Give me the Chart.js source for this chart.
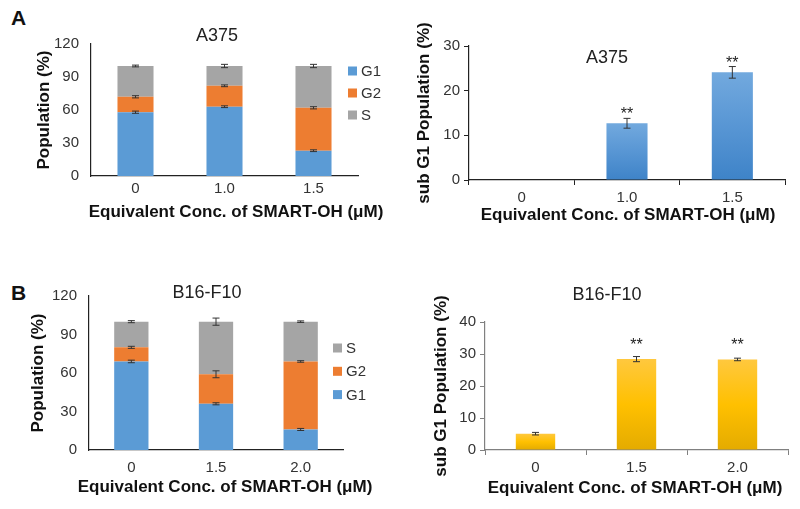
<!DOCTYPE html>
<html>
<head>
<meta charset="utf-8">
<script src="https://cdn.jsdelivr.net/npm/chart.js@4.4.1/dist/chart.umd.min.js"></script>
<style>
  body { margin: 0; background: #fff; }
  #wrap { position: relative; width: 800px; height: 509px; overflow: hidden; font-family: 'Liberation Sans', Arial, sans-serif; }
  canvas { position: absolute; }
  .tag { position: absolute; font-weight: bold; font-size: 21px; color: #111; }
</style>
</head>
<body>
<div id="wrap">
  <div class="tag" style="left:11px;top:6px;">A</div>
  <div class="tag" style="left:11px;top:281px;">B</div>
  <canvas id="aCycle" width="400" height="250" style="left:0;top:0;"></canvas>
  <canvas id="aSub" width="400" height="250" style="left:400px;top:0;"></canvas>
  <canvas id="bCycle" width="400" height="249" style="left:0;top:260px;"></canvas>
  <canvas id="bSub" width="400" height="249" style="left:400px;top:260px;"></canvas>
</div>
<script>
// --- data ---
var xTitle = 'Equivalent Conc. of SMART-OH (μM)';

var a375Doses = ['0', '1.0', '1.5'];
var a375G1 = [58, 63, 23];
var a375G2 = [14, 19, 39];
var a375S = [28, 18, 38];
var a375G1Err = [1, 0.8, 0.8];
var a375G2Err = [1, 0.8, 1];
var a375SErr = [0.8, 1.5, 1.5];

var a375SubG1 = [0, 12.7, 24.1];
var a375SubG1Err = [0, 1.1, 1.3];
var a375Sig = ['', '**', '**'];

var b16Doses = ['0', '1.5', '2.0'];
var b16G1 = [69, 36, 16];
var b16G2 = [11, 23, 53];
var b16S = [20, 41, 31];
var b16G1Err = [1, 0.8, 0.8];
var b16G2Err = [0.8, 2.7, 0.6];
var b16SErr = [0.8, 2.8, 0.6];

var b16SubG1 = [5.1, 28.4, 28.3];
var b16SubG1Err = [0.4, 0.8, 0.4];
var b16Sig = ['', '**', '**'];

Chart.defaults.font.family = "'Liberation Sans', Arial, sans-serif";
Chart.defaults.color = '#333';
Chart.defaults.animation = false;

var cBlue = '#5b9bd5', cOrange = '#ed7d31', cGray = '#a5a5a5';

// vertical gradient per bar (light top, dark bottom)
function barGradient(stops) {
    return function (ctx) {
        var chart = ctx.chart;
        if (!chart.chartArea || ctx.type !== 'data') return stops[stops.length - 1];
        var y = chart.scales.y;
        var g = chart.ctx.createLinearGradient(0, y.getPixelForValue(ctx.raw), 0, y.getPixelForValue(0));
        stops.forEach(function (c, k) { g.addColorStop(k / (stops.length - 1), c); });
        return g;
    };
}

// titles, legend, error bars and ** marks
var extras = {
    id: 'extras',
    afterDatasetsDraw: function (chart, args, opts) {
        var ctx = chart.ctx, y = chart.scales.y;
        var fam = Chart.defaults.font.family;
        ctx.save();
        (opts.errors || []).forEach(function (errs, di) {
            chart.getDatasetMeta(di).data.forEach(function (bar, i) {
                var e = errs[i];
                if (!e) return;
                var d = Math.abs(y.getPixelForValue(0) - y.getPixelForValue(e));
                ctx.strokeStyle = '#333';
                ctx.lineWidth = 1;
                ctx.beginPath();
                ctx.moveTo(bar.x, bar.y - d); ctx.lineTo(bar.x, bar.y + d);
                ctx.moveTo(bar.x - 3.5, bar.y - d); ctx.lineTo(bar.x + 3.5, bar.y - d);
                ctx.moveTo(bar.x - 3.5, bar.y + d); ctx.lineTo(bar.x + 3.5, bar.y + d);
                ctx.stroke();
            });
        });
        if (opts.stars) {
            ctx.fillStyle = '#222';
            ctx.font = '16px ' + fam;
            ctx.textAlign = 'center';
            ctx.textBaseline = 'alphabetic';
            chart.getDatasetMeta(0).data.forEach(function (bar, i) {
                var s = opts.stars.labels[i];
                if (s) ctx.fillText(s, bar.x, bar.y - opts.stars.lift);
            });
        }
        ctx.textAlign = 'center';
        ctx.textBaseline = 'middle';
        if (opts.title) {
            ctx.fillStyle = '#222';
            ctx.font = '18px ' + fam;
            ctx.fillText(opts.title.text, opts.title.x, opts.title.y);
        }
        if (opts.xTitle) {
            ctx.fillStyle = '#111';
            ctx.font = 'bold 17px ' + fam;
            ctx.fillText(xTitle, opts.xTitle.x, opts.xTitle.y);
        }
        if (opts.legend) {
            var lg = opts.legend;
            var sets = chart.data.datasets.slice();
            if (lg.reverse) sets.reverse();
            ctx.font = '15px ' + fam;
            ctx.textAlign = 'left';
            sets.forEach(function (ds, k) {
                var cy = lg.y + k * lg.gap;
                ctx.fillStyle = ds.backgroundColor;
                ctx.fillRect(lg.x, cy - 4.5, 9, 9);
                ctx.fillStyle = '#333';
                ctx.fillText(ds.label, lg.x + 13, cy + 1);
            });
        }
        ctx.restore();
    }
};

function cycleChart(id, labels, sets, o) {
    return new Chart(document.getElementById(id), {
        type: 'bar',
        data: {
            labels: labels,
            datasets: sets.map(function (s) {
                return {
                    label: s[0], data: s[1], backgroundColor: s[2],
                    barPercentage: 1, categoryPercentage: 0.405
                };
            })
        },
        plugins: [extras],
        options: {
            responsive: false,
            layout: { padding: o.padding },
            plugins: {
                legend: { display: false },
                tooltip: { enabled: false },
                extras: { title: o.title, xTitle: o.xTitle, legend: o.legend, errors: o.errors }
            },
            scales: {
                x: {
                    stacked: true,
                    grid: { display: false, drawTicks: false },
                    border: { display: true, color: '#222', width: 1.2 },
                    ticks: { padding: o.xTickPad, font: { size: 15 }, color: '#333' },
                    afterFit: function (s) { s.height = 50; }
                },
                y: {
                    stacked: true,
                    min: 0, max: 120,
                    grid: { display: false, drawTicks: false },
                    border: { display: true, color: '#222', width: 1.2 },
                    ticks: { stepSize: 30, padding: 12, font: { size: 15 }, color: '#333' },
                    title: { display: true, text: 'Population (%)', font: { size: 17, weight: 'bold' }, color: '#111', padding: { top: o.yTitlePad, bottom: 0 } },
                    afterFit: function (s) { s.width = o.yWidth; }
                }
            }
        }
    });
}

function subChart(id, labels, values, stops, o) {
    return new Chart(document.getElementById(id), {
        type: 'bar',
        data: {
            labels: labels,
            datasets: [{
                label: 'sub G1',
                data: values,
                backgroundColor: barGradient(stops),
                barPercentage: 1, categoryPercentage: 0.39
            }]
        },
        plugins: [extras],
        options: {
            responsive: false,
            layout: { padding: o.padding },
            plugins: {
                legend: { display: false },
                tooltip: { enabled: false },
                extras: { title: o.title, xTitle: o.xTitle, errors: [o.errors], stars: o.stars }
            },
            scales: {
                x: {
                    grid: { display: true, drawOnChartArea: false, drawTicks: true, tickLength: 5, color: o.axis, offset: true },
                    border: { display: true, color: o.axis, width: 1.2 },
                    ticks: { padding: 4, font: { size: 15 }, color: '#333' },
                    afterFit: function (s) { s.height = 50; }
                },
                y: {
                    min: 0, max: o.max,
                    grid: { display: true, drawOnChartArea: false, drawTicks: true, tickLength: 5, color: o.axis },
                    border: { display: true, color: o.axis, width: 1.2 },
                    ticks: { stepSize: 10, padding: 4, font: { size: 15 }, color: '#333' },
                    title: { display: true, text: 'sub G1 Population (%)', font: { size: 17, weight: 'bold' }, color: '#111', padding: { top: o.yTitlePad, bottom: 0 } },
                    afterFit: function (s) { s.width = o.yWidth; }
                }
            }
        }
    });
}

cycleChart('aCycle', a375Doses,
    [['G1', a375G1, cBlue], ['G2', a375G2, cOrange], ['S', a375S, cGray]],
    {
        padding: { left: 0, top: 44, right: 42, bottom: 24 },
        yWidth: 91, yTitlePad: 34, xTickPad: 4,
        title: { text: 'A375', x: 217, y: 36 },
        xTitle: { x: 236, y: 212 },
        legend: { x: 348, y: 71, gap: 22, reverse: false },
        errors: [a375G1Err, a375G2Err, a375SErr]
    });

subChart('aSub', a375Doses, a375SubG1, ['#72a9de', '#5896d4', '#3e83c8'], {
    padding: { left: 0, top: 46, right: 15, bottom: 20 },
    yWidth: 69, yTitlePad: 14, max: 30, axis: '#222',
    title: { text: 'A375', x: 207, y: 58 },
    xTitle: { x: 228, y: 215 },
    errors: a375SubG1Err,
    stars: { labels: a375Sig, lift: 4 }
});

cycleChart('bCycle', b16Doses,
    [['G1', b16G1, cBlue], ['G2', b16G2, cOrange], ['S', b16S, cGray]],
    {
        padding: { left: 0, top: 36, right: 57, bottom: 9 },
        yWidth: 89, yTitlePad: 28, xTickPad: 9,
        title: { text: 'B16-F10', x: 207, y: 33 },
        xTitle: { x: 225, y: 227 },
        legend: { x: 333, y: 88, gap: 23.3, reverse: true },
        errors: [b16G1Err, b16G2Err, b16SErr]
    });

subChart('bSub', b16Doses, b16SubG1, ['#ffc83e', '#ffc000', '#e4ab00'], {
    padding: { left: 0, top: 62, right: 12, bottom: 9 },
    yWidth: 85, yTitlePad: 31, max: 40, axis: '#808080',
    title: { text: 'B16-F10', x: 207, y: 35 },
    xTitle: { x: 235, y: 228 },
    errors: b16SubG1Err,
    stars: { labels: b16Sig, lift: 9 }
});
</script>
</body>
</html>
